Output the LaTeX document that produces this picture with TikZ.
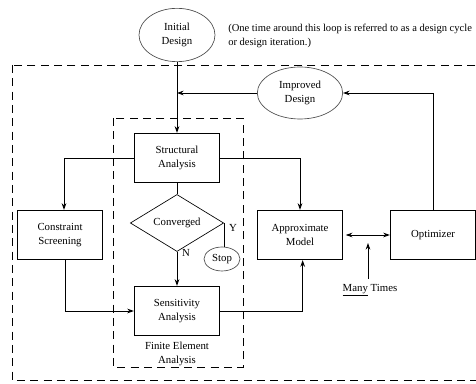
\documentclass[tikz,border=0pt]{standalone}
\usepackage{fontspec}
\setmainfont{Liberation Serif}
\usetikzlibrary{shapes.geometric,arrows.meta}

\tikzset{
    box/.style={draw, line width=0.65pt, minimum width=64pt, minimum height=37pt, align=center, inner sep=1pt},
    oval/.style={draw=black!70, ellipse, line width=0.5pt, align=center, inner sep=0pt},
    arr/.style={-{Stealth[length=5pt,width=3.5pt]}, line width=0.65pt},
    wire/.style={line width=0.65pt},
    frame/.style={dash pattern=on 6pt off 4pt, line width=0.6pt}
}

\begin{document}
\begin{tikzpicture}[x=0.75pt, y=-0.75pt, font=\fontsize{8.1}{10}\selectfont]
    \useasboundingbox (0,0) rectangle (476,384);

    % loop frames
    \draw[frame] (12,65) rectangle (482,380);
    \draw[frame] (113,118) rectangle (243,367);

    \node[oval, minimum width=57pt, minimum height=40pt] (init) at (177,35) {Initial\\Design};
    \node[anchor=north west, align=left, inner sep=0pt, font=\fontsize{7.9}{10}\selectfont] (note) at (228,24)
        {(One time around this loop is referred to as a design cycle\\or design iteration.)};
    \node[oval, minimum width=64pt, minimum height=39pt] (imp) at (300,93) {Improved\\Design};
    \coordinate (join) at (177,93);

    \node[box] (sa) at (177,158) {Structural\\Analysis};
    \node[box] (cs) at (60,235) {Constraint\\Screening};
    \node[draw, diamond, line width=0.5pt, minimum width=70pt, minimum height=35pt, inner sep=0pt] (conv) at (177,223) {Converged};
    \node[oval, minimum width=27pt, minimum height=18pt] (stop) at (222,259) {Stop};
    \node (y) at (233,228) {Y};
    \node (n) at (186,253) {N};
    \node[box] (sens) at (177,311) {Sensitivity\\Analysis};
    \node[align=center] (fea) at (177,354) {Finite Element\\Analysis};
    \node[box] (am) at (300,235) {Approximate\\Model};
    \node[box] (opt) at (433,235) {Optimizer};
    \node (many) at (370,290) {\underline{Many} Times};
    \coordinate (mt) at (368,243);

    \draw[arr] (init.south) -- (sa.north);
    \draw[arr] (opt.north) |- (imp.east);
    \draw[arr] (imp.west) -- (join);
    \draw[arr] (sa.west) -| ([xshift=3pt]cs.north);
    \draw[arr] (sa.east) -| (am.north);
    \draw[wire] (sa.south) -- (conv.north);
    \draw[wire] (conv.east) -- (conv.east |- stop.north);
    \draw[arr] (conv.south) -- (sens.north);
    \draw[arr] ([xshift=4pt]cs.south) |- (sens.west);
    \draw[arr] (sens.east) -| ([xshift=2pt]am.south);
    \draw[arr, {Stealth[length=5pt,width=3.5pt]}-{Stealth[length=5pt,width=3.5pt]}] ([xshift=2pt]am.east) -- (opt.west);
    \draw[arr] (many.north -| mt) -- (mt);
\end{tikzpicture}
\end{document}
